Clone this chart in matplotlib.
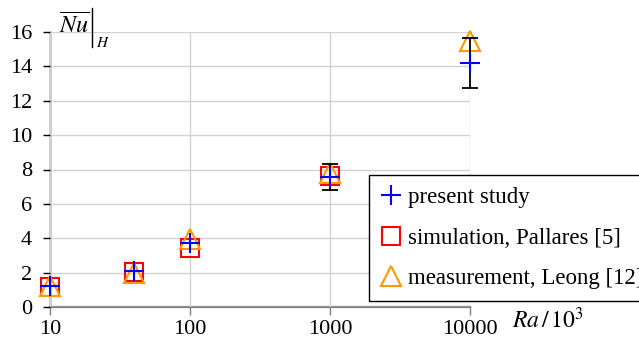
"""Mean Nusselt number vs Rayleigh number, comparison with literature."""

import numpy as np
import matplotlib
matplotlib.use("Agg")
import matplotlib.pyplot as plt
from matplotlib.lines import Line2D

plt.rcParams["font.family"] = ["Liberation Serif", "DejaVu Serif"]
plt.rcParams["mathtext.fontset"] = "stix"

# Ra / 10^3
ra_present = [10, 40, 100, 1000, 10000]
nu_present = [1.22, 2.12, 3.75, 7.55, 14.2]
err_present = [0, 0, 0, 0.75, 1.45]

ra_pallares = [10, 40, 100, 1000]
nu_pallares = [1.16, 2.03, 3.43, 7.6]

ra_leong = [10, 40, 100, 1000, 10000]
nu_leong = [1.2, 2.0, 3.95, 7.8, 15.45]

yticks = [0, 2, 4, 6, 8, 10, 12, 14, 16]
xticks = [10, 100, 1000, 10000]

W, H = 639, 340
fig = plt.figure(figsize=(W / 100, H / 100), dpi=100)
ax = fig.add_axes([50 / W, 1 - 307 / H, 420 / W, 275 / H])

ax.set_xscale("log")
ax.set_xlim(10, 10000)
ax.set_ylim(0, 16)
ax.set_xticks(xticks)
ax.set_xticklabels([str(t) for t in xticks])
ax.minorticks_off()
ax.set_yticks(yticks)
ax.grid(True, color="#d2d2d2", linewidth=1.0)
ax.set_axisbelow(True)

for s in ("top", "right"):
    ax.spines[s].set_visible(False)
ax.spines["left"].set_color("black")
ax.spines["left"].set_linewidth(1.0)
ax.spines["bottom"].set_color("#808080")
ax.spines["bottom"].set_linewidth(1.6)
ax.spines["left"].set_zorder(0.5)
ax.spines["bottom"].set_zorder(0.5)

ax.tick_params(axis="y", direction="out", length=5, width=1.0, color="black",
               pad=8, labelsize=16)
ax.tick_params(axis="x", direction="out", length=6, width=1.0, color="#808080",
               pad=3, labelsize=16)

ax.plot(ra_pallares, nu_pallares, ls="none", marker="s", ms=12.5, mfc="none",
        mec="red", mew=1.5, label="simulation, Pallares [5]", zorder=3,
        clip_on=False)
ax.plot(ra_leong, nu_leong, ls="none", marker="^", ms=14, mfc="none",
        mec="#ff9900", mew=1.5, label="measurement, Leong [12]", zorder=4,
        clip_on=False)
eb = ax.errorbar(ra_present, nu_present, yerr=err_present, fmt="none",
                 ecolor="black", elinewidth=1.3, capsize=5.5, capthick=1.3,
                 zorder=5)
for part in eb.lines[1] + eb.lines[2]:
    part.set_clip_on(False)
ax.plot(ra_present, nu_present, ls="none", marker="+", ms=15, mec="blue",
        mew=1.5, label="present study", zorder=6, clip_on=False)

h, l = ax.get_legend_handles_labels()
order = [2, 0, 1]
leg = fig.legend([h[i] for i in order], [l[i] for i in order],
                 loc="upper left", bbox_to_anchor=(369 / W, 1 - 175 / H),
                 fontsize=16.5, frameon=True, fancybox=False, framealpha=1,
                 edgecolor="black", handlelength=0.9, handletextpad=0.3,
                 labelspacing=0.86, borderpad=0.52, borderaxespad=0)
leg.get_frame().set_linewidth(1.0)

# axis labels
fig.text(512 / W, 1 - 320 / H, r"$Ra\,/\,10^3$", fontsize=17,
         ha="left", va="center")
fig.text(59 / W, 1 - 33 / H, r"$\overline{Nu}$", fontsize=17.5,
         ha="left", va="baseline")
fig.add_artist(Line2D([92 / W, 92 / W], [1 - 8 / H, 1 - 47 / H],
                      color="black", lw=1.0))
fig.text(96 / W, 1 - 47 / H, r"$H$", fontsize=11, ha="left", va="baseline")

fig.savefig("out.png", dpi=100)
